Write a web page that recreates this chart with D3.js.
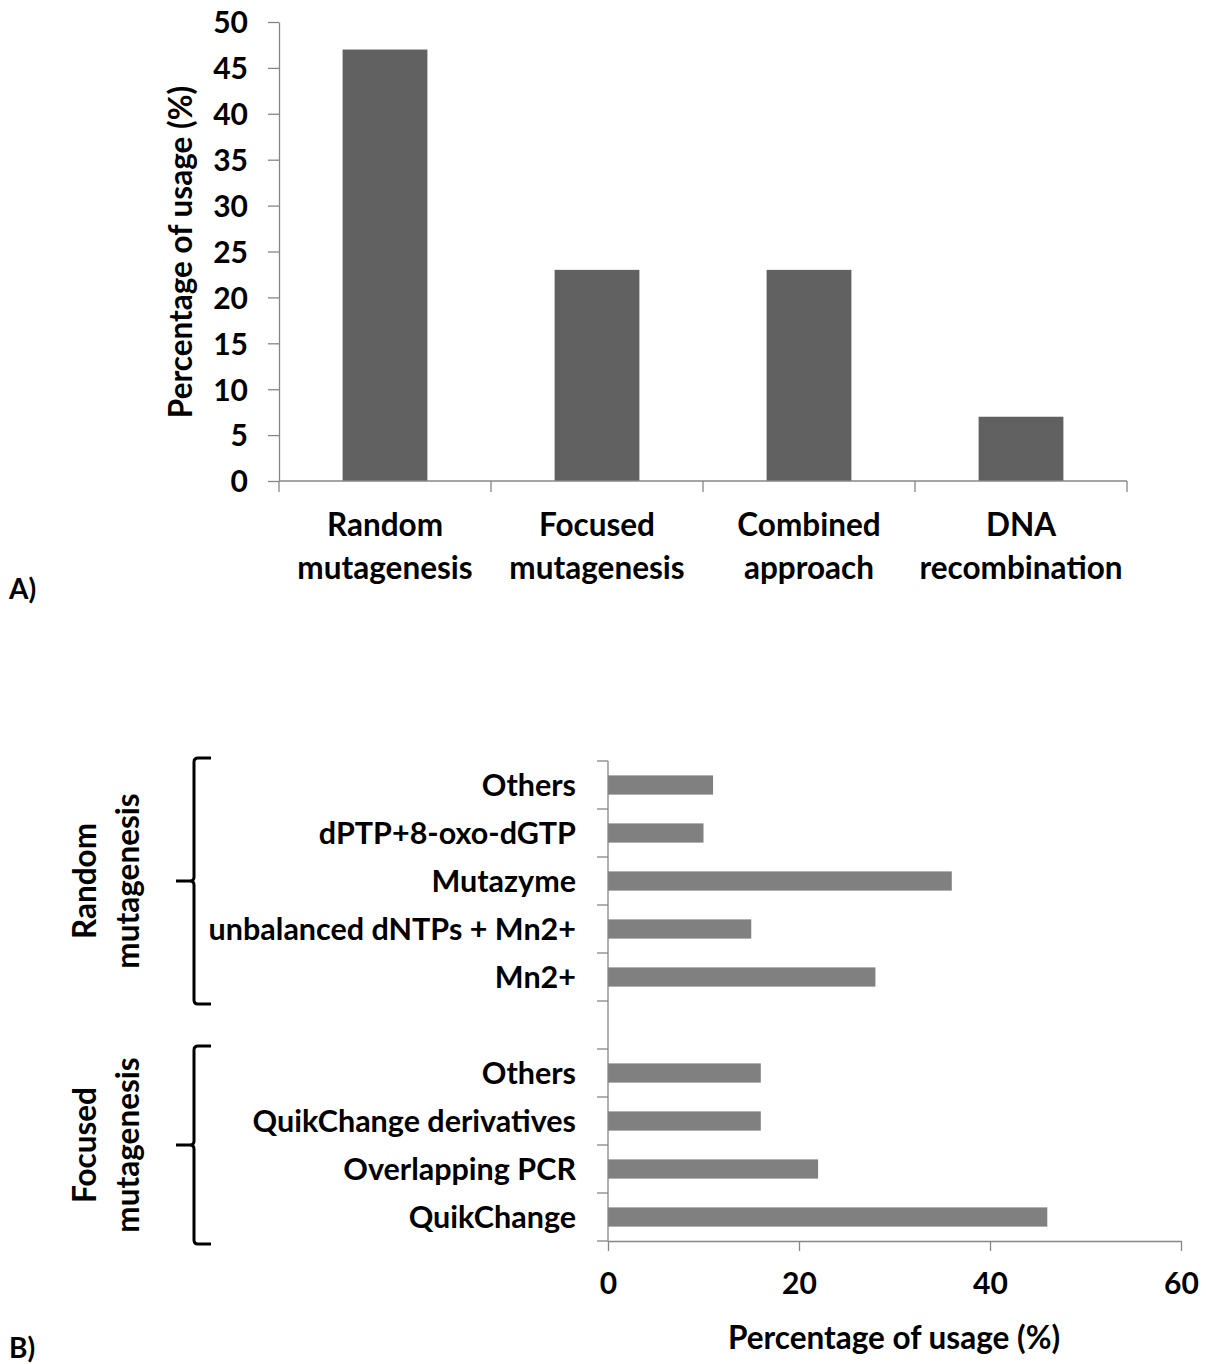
<!DOCTYPE html>
<html>
<head>
<meta charset="utf-8">
<script src="https://cdn.jsdelivr.net/npm/d3@7"></script>
<style>
  body { margin: 0; background: #fff; }
  text { font-family: Lato, "Open Sans", sans-serif; font-weight: bold; fill: #000; }
</style>
</head>
<body>
<div id="chart"></div>
<script>
// panel A data
var catsA = [["Random", "mutagenesis"], ["Focused", "mutagenesis"], ["Combined", "approach"], ["DNA", "recombination"]];
var valsA = [47, 23, 23, 7];
var ticksA = [0, 5, 10, 15, 20, 25, 30, 35, 40, 45, 50];

// panel B data (top to bottom, empty row between groups)
var labelsB = ["Others", "dPTP+8-oxo-dGTP", "Mutazyme", "unbalanced dNTPs + Mn2+", "Mn2+", "",
               "Others", "QuikChange derivatives", "Overlapping PCR", "QuikChange"];
var valsB = [11, 10, 36, 15, 28, null, 16, 16, 22, 46];
var ticksB = [0, 20, 40, 60];
var groupsB = [
  {name: ["Random", "mutagenesis"], first: 0, last: 4},
  {name: ["Focused", "mutagenesis"], first: 6, last: 9}
];

var W = 1208, H = 1364;
var axisColor = "#868686";
var fs = "31.5px";

var svg = d3.select("#chart").append("svg")
    .attr("width", W)
    .attr("height", H);

// ---------- A ----------
var xA = d3.scaleBand().domain(d3.range(catsA.length)).range([279, 1127]).paddingInner(0.6).paddingOuter(0.3);
var yA = d3.scaleLinear().domain([0, 50]).range([481, 22]);

var gA = svg.append("g");

gA.selectAll("rect")
    .data(valsA)
    .enter().append("rect")
    .attr("x", function(d, i) { return xA(i); })
    .attr("y", function(d) { return yA(d); })
    .attr("width", xA.bandwidth())
    .attr("height", function(d) { return yA(0) - yA(d); })
    .attr("fill", "#616161");

var yAxisA = gA.append("g")
    .attr("transform", "translate(279,0)")
    .call(d3.axisLeft(yA).tickValues(ticksA).tickSize(11).tickSizeOuter(0).tickPadding(20));
yAxisA.selectAll("text").style("font-size", "30px").attr("dy", "0.36em");

// x axis line + ticks at category boundaries
var stepA = xA.step();
var boundsA = d3.range(catsA.length + 1).map(function(i) {
  return i < catsA.length ? xA(i) - stepA * xA.paddingInner() / 2 : xA(i - 1) + xA.bandwidth() + stepA * xA.paddingInner() / 2;
});
gA.append("line")
    .attr("x1", boundsA[0]).attr("x2", boundsA[boundsA.length - 1])
    .attr("y1", yA(0)).attr("y2", yA(0));
gA.selectAll(".xtick")
    .data(boundsA)
    .enter().append("line")
    .attr("class", "xtick")
    .attr("x1", function(d) { return d; }).attr("x2", function(d) { return d; })
    .attr("y1", yA(0)).attr("y2", yA(0) + 11);
gA.selectAll("line").attr("stroke", axisColor).attr("stroke-width", 1.3);
yAxisA.selectAll("line, path").attr("stroke", axisColor).attr("stroke-width", 1.3);

gA.selectAll(".xlab")
    .data(catsA)
    .enter().append("text")
    .attr("class", "xlab")
    .attr("text-anchor", "middle")
    .attr("transform", function(d, i) { return "translate(" + (xA(i) + xA.bandwidth() / 2) + ",0)"; })
    .style("font-size", fs)
    .selectAll("tspan")
    .data(function(d) { return d; })
    .enter().append("tspan")
    .attr("x", 0)
    .attr("y", function(d, j) { return 536 + j * 43; })
    .text(function(d) { return d; });

gA.append("text")
    .attr("transform", "translate(192,252) rotate(-90)")
    .attr("text-anchor", "middle")
    .style("font-size", fs)
    .text("Percentage of usage (%)");

svg.append("text")
    .attr("x", 9).attr("y", 599)
    .style("font-size", "28px")
    .text("A)");

// ---------- B ----------
var rowsB = labelsB.map(function(l, i) { return {i: i, label: l, v: valsB[i]}; });
var yB = d3.scaleBand().domain(d3.range(labelsB.length)).range([761, 1241]).paddingInner(0.6).paddingOuter(0.3);
var xB = d3.scaleLinear().domain([0, 60]).range([608, 1181]);

var gB = svg.append("g");

gB.selectAll("rect")
    .data(rowsB.filter(function(r) { return r.v !== null; }))
    .enter().append("rect")
    .attr("x", xB(0))
    .attr("y", function(r) { return yB(r.i); })
    .attr("width", function(r) { return xB(r.v) - xB(0); })
    .attr("height", yB.bandwidth())
    .attr("fill", "#808080");

var xAxisB = gB.append("g")
    .attr("transform", "translate(0,1241)")
    .call(d3.axisBottom(xB).tickValues(ticksB).tickSize(10).tickSizeOuter(0).tickPadding(22));
xAxisB.selectAll("text").style("font-size", "30px");
xAxisB.selectAll("line, path").attr("stroke", axisColor).attr("stroke-width", 1.3);

var stepB = yB.step();
var boundsB = d3.range(labelsB.length + 1).map(function(i) {
  return i < labelsB.length ? yB(i) - stepB * yB.paddingInner() / 2 : yB(i - 1) + yB.bandwidth() + stepB * yB.paddingInner() / 2;
});
gB.append("line")
    .attr("class", "yaxB")
    .attr("x1", xB(0)).attr("x2", xB(0))
    .attr("y1", boundsB[0]).attr("y2", boundsB[boundsB.length - 1]);
gB.selectAll(".ytick")
    .data(boundsB)
    .enter().append("line")
    .attr("class", "ytick")
    .attr("x1", xB(0) - 11).attr("x2", xB(0))
    .attr("y1", function(d) { return d; }).attr("y2", function(d) { return d; });
gB.selectAll(".yaxB, .ytick").attr("stroke", axisColor).attr("stroke-width", 1.3);

gB.selectAll(".ylab")
    .data(rowsB)
    .enter().append("text")
    .attr("class", "ylab")
    .attr("x", 576)
    .attr("y", function(r) { return yB(r.i) + yB.bandwidth() / 2; })
    .attr("dy", "0.36em")
    .attr("text-anchor", "end")
    .style("font-size", "30.5px")
    .text(function(r) { return r.label; });

gB.append("text")
    .attr("x", 894).attr("y", 1349)
    .attr("text-anchor", "middle")
    .style("font-size", fs)
    .text("Percentage of usage (%)");

// group brackets
groupsB.forEach(function(g) {
  var top = yB(g.first) - stepB * 0.3 - 3;
  var bot = yB(g.last) + yB.bandwidth() + stepB * 0.3 + 3;
  var mid = (top + bot) / 2;
  var bx = 194;
  var p = d3.path();
  p.moveTo(bx + 17, top);
  p.lineTo(bx + 4, top);
  p.quadraticCurveTo(bx, top, bx, top + 4);
  p.lineTo(bx, mid - 4);
  p.quadraticCurveTo(bx, mid, bx - 4, mid);
  p.lineTo(bx - 18, mid);
  p.moveTo(bx - 4, mid);
  p.quadraticCurveTo(bx, mid, bx, mid + 4);
  p.lineTo(bx, bot - 4);
  p.quadraticCurveTo(bx, bot, bx + 4, bot);
  p.lineTo(bx + 17, bot);
  gB.append("path")
      .attr("d", p.toString())
      .attr("fill", "none")
      .attr("stroke", "#000")
      .attr("stroke-width", 3);

  gB.append("text")
      .attr("transform", "translate(108," + mid + ") rotate(-90)")
      .attr("text-anchor", "middle")
      .style("font-size", fs)
      .selectAll("tspan")
      .data(g.name)
      .enter().append("tspan")
      .attr("x", 0)
      .attr("y", function(d, j) { return -12 + j * 43; })
      .text(function(d) { return d; });
});

svg.append("text")
    .attr("x", 9).attr("y", 1358)
    .style("font-size", "28px")
    .text("B)");
</script>
</body>
</html>
